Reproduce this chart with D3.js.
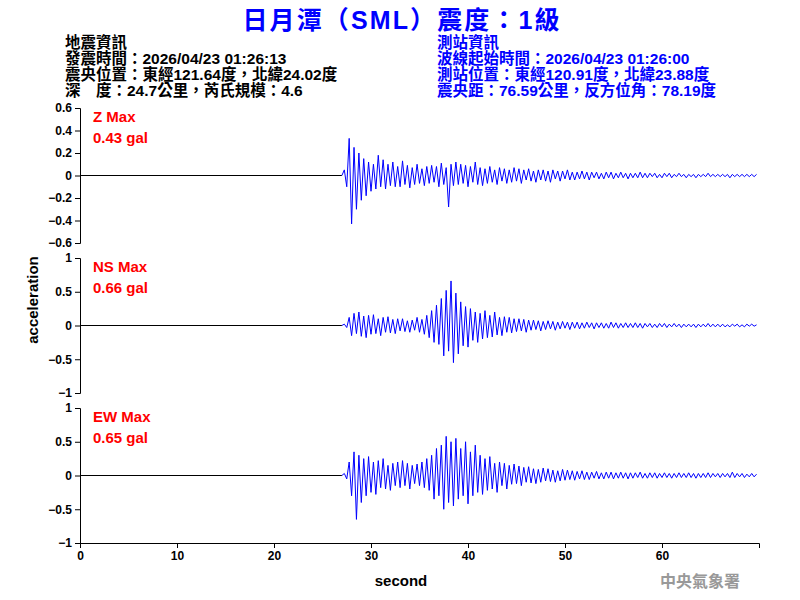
<!DOCTYPE html>
<html><head><meta charset="utf-8">
<script src="https://cdn.jsdelivr.net/npm/d3@7"></script>
<style>body{margin:0;background:#fff}text{font-family:"Liberation Sans",Arial,"Noto Sans CJK TC",sans-serif}</style>
</head><body><svg id="c" width="800" height="600"></svg>
<script>
// waveform samples, start 27 s, 0.25 s apart
var t0 = 27, dt = 0.25, onset = 27;
var zVals = [0,0.05,-0.1,0.33,-0.43,0.25,-0.3,0.2,-0.22,0.15,-0.18,0.12,
-0.14,0.1,-0.12,0.18,-0.1,0.14,-0.12,0.1,-0.09,0.12,-0.1,0.08,
-0.1,0.13,-0.08,0.09,-0.11,0.07,-0.08,0.1,-0.07,0.06,-0.09,0.08,
-0.07,0.09,-0.06,0.08,-0.1,0.11,-0.08,0.07,-0.28,0.1,-0.09,0.12,
-0.08,0.1,-0.07,0.09,-0.1,0.08,-0.06,0.12,-0.08,0.07,-0.09,0.06,
-0.07,0.08,-0.06,0.05,-0.08,0.07,-0.05,0.06,-0.07,0.05,-0.06,0.07,
-0.05,0.06,-0.07,0.05,-0.04,0.06,-0.05,0.04,-0.06,0.05,-0.04,0.05,
-0.05,0.04,-0.06,0.05,-0.03,0.04,-0.05,0.04,-0.03,0.05,-0.04,0.03,
-0.04,0.03,-0.03,0.04,-0.03,0.03,-0.04,0.03,-0.02,0.03,-0.03,0.02,
-0.03,0.03,-0.02,0.03,-0.03,0.02,-0.02,0.03,-0.02,0.02,-0.03,0.02,
-0.02,0.02,-0.02,0.03,-0.02,0.02,-0.02,0.02,-0.01,0.02,-0.02,0.01,
-0.02,0.02,-0.01,0.02,-0.02,0.01,-0.01,0.02,-0.01,0.01,-0.02,0.01,
-0.01,0.01,-0.02,0.01,-0.01,0.01,-0.01,0.02,-0.01,0.01,-0.01,0.01,
-0.01,0.01,-0.01,0.01,-0.02,0.01,-0.01,0.01,-0.01,0.01,-0.01,0.01,
-0.01,0.01,-0.01,0.01];
var nsVals = [0,0.02,-0.03,0.12,-0.15,0.18,-0.12,0.2,-0.16,0.14,-0.18,0.15,
-0.13,0.16,-0.12,0.1,-0.15,0.12,-0.1,0.13,-0.11,0.09,-0.12,0.1,
-0.08,0.1,-0.09,0.07,-0.1,0.08,-0.07,0.12,-0.1,0.09,-0.13,0.15,
-0.18,0.22,-0.25,0.3,-0.28,0.4,-0.45,0.52,-0.38,0.66,-0.55,0.48,
-0.42,0.35,-0.3,0.28,-0.32,0.25,-0.22,0.2,-0.25,0.18,-0.2,0.22,
-0.18,0.15,-0.17,0.2,-0.14,0.12,-0.15,0.13,-0.1,0.12,-0.11,0.1,
-0.09,0.1,-0.08,0.09,-0.1,0.08,-0.07,0.08,-0.06,0.07,-0.08,0.06,
-0.06,0.07,-0.05,0.06,-0.07,0.05,-0.05,0.06,-0.04,0.05,-0.06,0.05,
-0.04,0.05,-0.05,0.04,-0.04,0.05,-0.03,0.04,-0.05,0.04,-0.03,0.04,
-0.04,0.03,-0.04,0.05,-0.03,0.04,-0.04,0.03,-0.03,0.04,-0.03,0.03,
-0.03,0.04,-0.03,0.03,-0.04,0.03,-0.02,0.03,-0.03,0.02,-0.03,0.03,
-0.02,0.03,-0.03,0.02,-0.02,0.03,-0.02,0.02,-0.03,0.02,-0.02,0.02,
-0.02,0.02,-0.03,0.02,-0.02,0.02,-0.02,0.03,-0.02,0.02,-0.02,0.02,
-0.02,0.02,-0.02,0.01,-0.02,0.02,-0.01,0.02,-0.02,0.01,-0.02,0.02,
-0.01,0.02,-0.01,0.01];
var ewVals = [0,0.03,-0.05,0.2,-0.3,0.35,-0.65,0.3,-0.4,0.25,-0.3,0.28,
-0.25,0.2,-0.28,0.22,-0.18,0.25,-0.2,0.15,-0.22,0.18,-0.15,0.2,
-0.18,0.22,-0.15,0.18,-0.2,0.15,-0.12,0.17,-0.15,0.2,-0.18,0.25,
-0.22,0.3,-0.35,0.4,-0.3,0.45,-0.5,0.58,-0.4,0.5,-0.45,0.55,
-0.35,0.4,-0.3,0.5,-0.42,0.35,-0.3,0.45,-0.25,0.3,-0.28,0.25,
-0.22,0.28,-0.2,0.18,-0.25,0.2,-0.15,0.18,-0.2,0.15,-0.13,0.17,
-0.12,0.14,-0.15,0.12,-0.1,0.13,-0.11,0.1,-0.12,0.09,-0.1,0.11,
-0.08,0.1,-0.09,0.08,-0.1,0.07,-0.08,0.09,-0.07,0.08,-0.06,0.07,
-0.07,0.06,-0.05,0.07,-0.06,0.05,-0.06,0.05,-0.04,0.06,-0.05,0.04,
-0.05,0.05,-0.04,0.05,-0.05,0.04,-0.04,0.05,-0.04,0.04,-0.05,0.04,
-0.04,0.04,-0.03,0.05,-0.04,0.03,-0.04,0.04,-0.03,0.04,-0.04,0.03,
-0.03,0.04,-0.03,0.03,-0.04,0.03,-0.03,0.04,-0.03,0.03,-0.03,0.04,
-0.03,0.03,-0.04,0.03,-0.03,0.03,-0.03,0.04,-0.03,0.03,-0.02,0.03,
-0.03,0.03,-0.02,0.03,-0.03,0.05,-0.03,0.03,-0.02,0.03,-0.03,0.02,
-0.02,0.03,-0.02,0.02];

var panelNames = ["Z Max", "NS Max", "EW Max"];
var panelPeaks = ["0.43 gal", "0.66 gal", "0.65 gal"];
var panelTicks = [[-0.6,-0.4,-0.2,0,0.2,0.4,0.6],[-1,-0.5,0,0.5,1],[-1,-0.5,0,0.5,1]];
var xTicks = [0,10,20,30,40,50,60];
var leftInfo = ["地震資訊","發震時間：2026/04/23 01:26:13","震央位置：東經121.64度，北緯24.02度","深　度：24.7公里，芮氏規模：4.6"];
var rightInfo = ["測站資訊","波線起始時間：2026/04/23 01:26:00","測站位置：東經120.91度，北緯23.88度","震央距：76.59公里，反方位角：78.19度"];

var svg = d3.select("#c");
var x = d3.scaleLinear().domain([0, 70]).range([80, 759]);
var tops = [108, 258, 408], ph = 135;
var series = [zVals, nsVals, ewVals];

svg.append("text").attr("x", 401).attr("y", 29).attr("text-anchor", "middle")
  .attr("fill", "#0000ff").attr("font-size", 25).attr("font-weight", "bold")
  .attr("textLength", 317).text("日月潭（SML）震度：1級");

leftInfo.forEach(function(s, i) {
  svg.append("text").attr("x", 65).attr("y", 48 + i * 16).attr("font-size", 15.5)
    .attr("font-weight", "bold").attr("fill", "#000").text(s);
});
rightInfo.forEach(function(s, i) {
  svg.append("text").attr("x", 437).attr("y", 48 + i * 16).attr("font-size", 15.5)
    .attr("font-weight", "bold").attr("fill", "#0000ff").text(s);
});

series.forEach(function(vals, k) {
  var ext = k == 0 ? 0.6 : 1;
  var y = d3.scaleLinear().domain([-ext, ext]).range([tops[k] + ph, tops[k]]);
  var g = svg.append("g");
  g.append("g").attr("transform", "translate(80,0)")
    .call(d3.axisLeft(y).tickValues(panelTicks[k]).tickSize(5).tickFormat(d3.format("")))
    .call(function(a) { a.selectAll("text").attr("font-size", 12).attr("font-weight", "bold").attr("fill", "#000"); });

  var pts = vals.map(function(v, i) { return [t0 + i * dt, v]; });
  var line = d3.line().x(function(d) { return x(d[0]); }).y(function(d) { return y(d[1]); });
  g.append("path").attr("d", line([[0, 0], [onset, 0]])).attr("stroke", "#000").attr("fill", "none").attr("stroke-width", 1);
  g.append("path").attr("d", line(pts)).attr("stroke", "#0000ff").attr("fill", "none").attr("stroke-width", 1);

  g.append("text").attr("x", 93).attr("y", tops[k] + 14).attr("fill", "#ff0000")
    .attr("font-size", 15).attr("font-weight", "bold").text(panelNames[k]);
  g.append("text").attr("x", 93).attr("y", tops[k] + 35).attr("fill", "#ff0000")
    .attr("font-size", 15).attr("font-weight", "bold").text(panelPeaks[k]);
});

svg.append("g").attr("transform", "translate(0," + (tops[2] + ph) + ")")
  .call(d3.axisBottom(x).tickValues(xTicks).tickSize(5))
  .call(function(a) { a.selectAll("text").attr("font-size", 12).attr("font-weight", "bold").attr("fill", "#000"); });

svg.append("text").attr("x", 401).attr("y", 586).attr("text-anchor", "middle")
  .attr("font-size", 15).attr("font-weight", "bold").text("second");
svg.append("text").attr("transform", "translate(38,300) rotate(-90)").attr("text-anchor", "middle")
  .attr("font-size", 15).attr("font-weight", "bold").text("acceleration");
svg.append("text").attr("x", 700).attr("y", 587).attr("text-anchor", "middle")
  .attr("font-size", 16).attr("font-weight", "bold").attr("fill", "#999").text("中央氣象署");
</script></body></html>
